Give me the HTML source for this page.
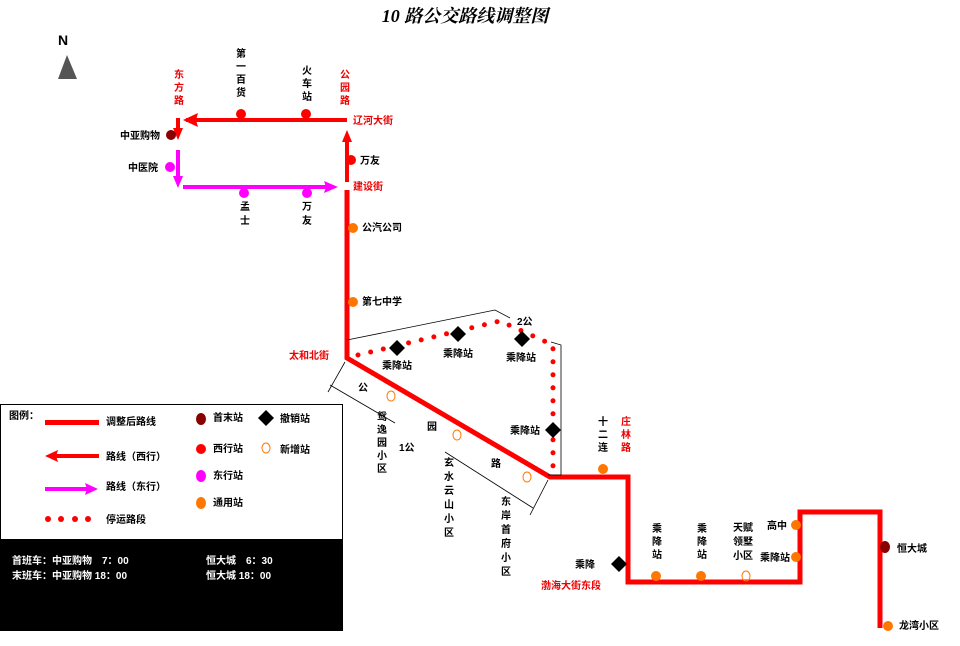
<!DOCTYPE html>
<html><head><meta charset="utf-8"><style>
body{margin:0;background:#fff;width:960px;height:641px;overflow:hidden}
svg text{font-family:"Liberation Sans","Noto Sans CJK SC",sans-serif;font-weight:bold;font-size:10px}
.r{fill:#e00}
</style></head><body>
<svg width="960" height="641" viewBox="0 0 960 641">
<text x="465" y="22" text-anchor="middle" style="font-size:18px;font-style:italic;font-family:'Liberation Serif','Noto Serif CJK SC',serif" fill="#000">10 路公交路线调整图</text>
<text x="58" y="45" style="font-size:14px">N</text>
<polygon points="67,55 58,79 77,79" fill="#555"/>
<!-- top red westbound -->
<line x1="186" y1="120" x2="347" y2="120" stroke="#f00" stroke-width="4"/>
<polygon points="183,120 198,113 196,120 198,127" fill="#f00"/>
<circle cx="241" cy="114" r="5" fill="#f00"/><circle cx="306" cy="114" r="5" fill="#f00"/>
<line x1="178" y1="118" x2="178" y2="134" stroke="#f00" stroke-width="4"/>
<polygon points="178,140 173,128 183,128" fill="#f00"/>
<circle cx="171" cy="135" r="5" fill="#800"/>
<line x1="178" y1="150" x2="178" y2="182" stroke="#f0f" stroke-width="4"/>
<polygon points="178,188 173,176 183,176" fill="#f0f"/>
<circle cx="170" cy="167" r="5" fill="#f0f"/>
<line x1="183" y1="187" x2="332" y2="187" stroke="#f0f" stroke-width="4"/>
<polygon points="338,187 324,181 326,187 324,193" fill="#f0f"/>
<circle cx="244" cy="193" r="5" fill="#f0f"/><circle cx="307" cy="193" r="5" fill="#f0f"/>
<line x1="347" y1="136" x2="347" y2="182" stroke="#f00" stroke-width="4"/>
<polygon points="347,130 342,142 352,142" fill="#f00"/>
<circle cx="351" cy="160" r="5" fill="#f00"/>
<!-- main route -->
<polyline points="347,190 347,358 550,477 628,477 628,582 800,582 800,512 880,512 880,628" fill="none" stroke="#f00" stroke-width="5"/>
<circle cx="353" cy="228" r="5" fill="#f70"/><circle cx="353" cy="302" r="5" fill="#f70"/>
<!-- thin lines -->
<polyline points="347,340 495,310 510,318" fill="none" stroke="#000" stroke-width="0.8"/>
<polyline points="548,475 561,475 561,345 551,342" fill="none" stroke="#000" stroke-width="0.8"/>
<line x1="330" y1="385" x2="395" y2="423" stroke="#000" stroke-width="0.8"/>
<line x1="345" y1="362" x2="328" y2="392" stroke="#000" stroke-width="0.8"/>
<line x1="445" y1="452" x2="533" y2="508" stroke="#000" stroke-width="0.8"/>
<line x1="548" y1="480" x2="530" y2="515" stroke="#000" stroke-width="0.8"/>
<!-- dotted -->
<polyline points="358,355 500,321 553,345 553,470" fill="none" stroke="#f00" stroke-width="5" stroke-linecap="round" stroke-dasharray="0,13"/>
<g fill="#000">
<polygon points="397,340 405,348 397,356 389,348"/>
<polygon points="458,326 466,334 458,342 450,334"/>
<polygon points="522,331 530,339 522,347 514,339"/>
<polygon points="553,422 561,430 553,438 545,430"/>
<polygon points="619,556 627,564 619,572 611,564"/>
</g>
<g fill="none" stroke="#f70" stroke-width="1">
<ellipse cx="391" cy="396" rx="4" ry="5"/><ellipse cx="457" cy="435" rx="4" ry="5"/><ellipse cx="527" cy="477" rx="4" ry="5"/><ellipse cx="746" cy="576" rx="4" ry="5"/>
</g>
<circle cx="603" cy="469" r="5" fill="#f70"/>
<circle cx="656" cy="576" r="5" fill="#f70"/><circle cx="701" cy="576" r="5" fill="#f70"/>
<circle cx="796" cy="525" r="5" fill="#f70"/><circle cx="796" cy="557" r="5" fill="#f70"/>
<ellipse cx="885" cy="547" rx="5" ry="6" fill="#800"/>
<circle cx="888" cy="626" r="5" fill="#f70"/>
<!-- labels -->
<g class="r">
<text x="174" y="78">东</text><text x="174" y="91">方</text><text x="174" y="104">路</text>
<text x="340" y="78">公</text><text x="340" y="91">园</text><text x="340" y="104">路</text>
<text x="353" y="124">辽河大街</text><text x="353" y="190">建设街</text>
<text x="289" y="359">太和北街</text>
<text x="621" y="425">庄</text><text x="621" y="438">林</text><text x="621" y="451">路</text>
<text x="541" y="589">渤海大街东段</text>
</g>
<text x="236" y="57">第</text><text x="236" y="70">一</text><text x="236" y="83">百</text><text x="236" y="96">货</text>
<text x="302" y="74">火</text><text x="302" y="87">车</text><text x="302" y="100">站</text>
<text x="120" y="139">中亚购物</text><text x="128" y="171">中医院</text>
<text x="360" y="164">万友</text>
<text x="240" y="210">孟</text><text x="240" y="224">士</text>
<text x="302" y="210">万</text><text x="302" y="224">友</text>
<text x="362" y="231">公汽公司</text><text x="362" y="305">第七中学</text>
<text x="382" y="369">乘降站</text><text x="443" y="357">乘降站</text><text x="506" y="361">乘降站</text><text x="510" y="434">乘降站</text>
<text x="575" y="568">乘降</text>
<g style="font-size:13px;font-weight:normal">
<text x="517" y="325">2公</text><text x="358" y="391">公</text><text x="427" y="430">园</text><text x="399" y="451">1公</text><text x="491" y="467">路</text>
</g>
<text x="377" y="420">鸳</text><text x="377" y="433">逸</text><text x="377" y="446">园</text><text x="377" y="459">小</text><text x="377" y="472">区</text>
<text x="444" y="466">玄</text><text x="444" y="480">水</text><text x="444" y="494">云</text><text x="444" y="508">山</text><text x="444" y="522">小</text><text x="444" y="536">区</text>
<text x="501" y="505">东</text><text x="501" y="519">岸</text><text x="501" y="533">首</text><text x="501" y="547">府</text><text x="501" y="561">小</text><text x="501" y="575">区</text>
<text x="598" y="425">十</text><text x="598" y="438">二</text><text x="598" y="451">连</text>
<text x="652" y="532">乘</text><text x="652" y="545">降</text><text x="652" y="558">站</text>
<text x="697" y="532">乘</text><text x="697" y="545">降</text><text x="697" y="558">站</text>
<text x="733" y="531">天赋</text><text x="733" y="545">领墅</text><text x="733" y="559">小区</text>
<text x="767" y="529">高中</text><text x="760" y="561">乘降站</text>
<text x="897" y="552">恒大城</text><text x="899" y="629">龙湾小区</text>
<!-- legend -->
<rect x="0.5" y="404.5" width="342" height="135" fill="#fff" stroke="#000"/>
<text x="9" y="419">图例：</text>
<rect x="45" y="420" width="54" height="5" fill="#f00"/><text x="106" y="425">调整后路线</text>
<line x1="50" y1="456" x2="99" y2="456" stroke="#f00" stroke-width="4"/><polygon points="45,456 58,450 56,456 58,462" fill="#f00"/><text x="106" y="460">路线（西行）</text>
<line x1="45" y1="489" x2="92" y2="489" stroke="#f0f" stroke-width="4"/><polygon points="98,489 85,483 87,489 85,495" fill="#f0f"/><text x="106" y="490">路线（东行）</text>
<g fill="#f00"><circle cx="48" cy="519" r="3"/><circle cx="61" cy="519" r="3"/><circle cx="75" cy="519" r="3"/><circle cx="88" cy="519" r="3"/></g><text x="106" y="523">停运路段</text>
<ellipse cx="201" cy="419" rx="5" ry="6" fill="#800"/><text x="213" y="421">首末站</text>
<circle cx="201" cy="449" r="5" fill="#f00"/><text x="213" y="452">西行站</text>
<ellipse cx="201" cy="476" rx="5" ry="6" fill="#f0f"/><text x="213" y="479">东行站</text>
<ellipse cx="201" cy="503" rx="5" ry="6" fill="#f70"/><text x="213" y="506">通用站</text>
<polygon points="266,410 274,418 266,426 258,418" fill="#000"/><text x="280" y="422">撤销站</text>
<ellipse cx="266" cy="448" rx="4" ry="5" fill="none" stroke="#f70"/><text x="280" y="453">新增站</text>
<rect x="0" y="540" width="343" height="91" fill="#000"/>
<g fill="#fff" style="font-size:12px;font-weight:normal">
<text x="12" y="564">首班车：中亚购物　7：00</text><text x="206" y="564">恒大城　6：30</text>
<text x="12" y="579">末班车：中亚购物 18：00</text><text x="206" y="579">恒大城 18：00</text>
</g>
</svg>
</body></html>
